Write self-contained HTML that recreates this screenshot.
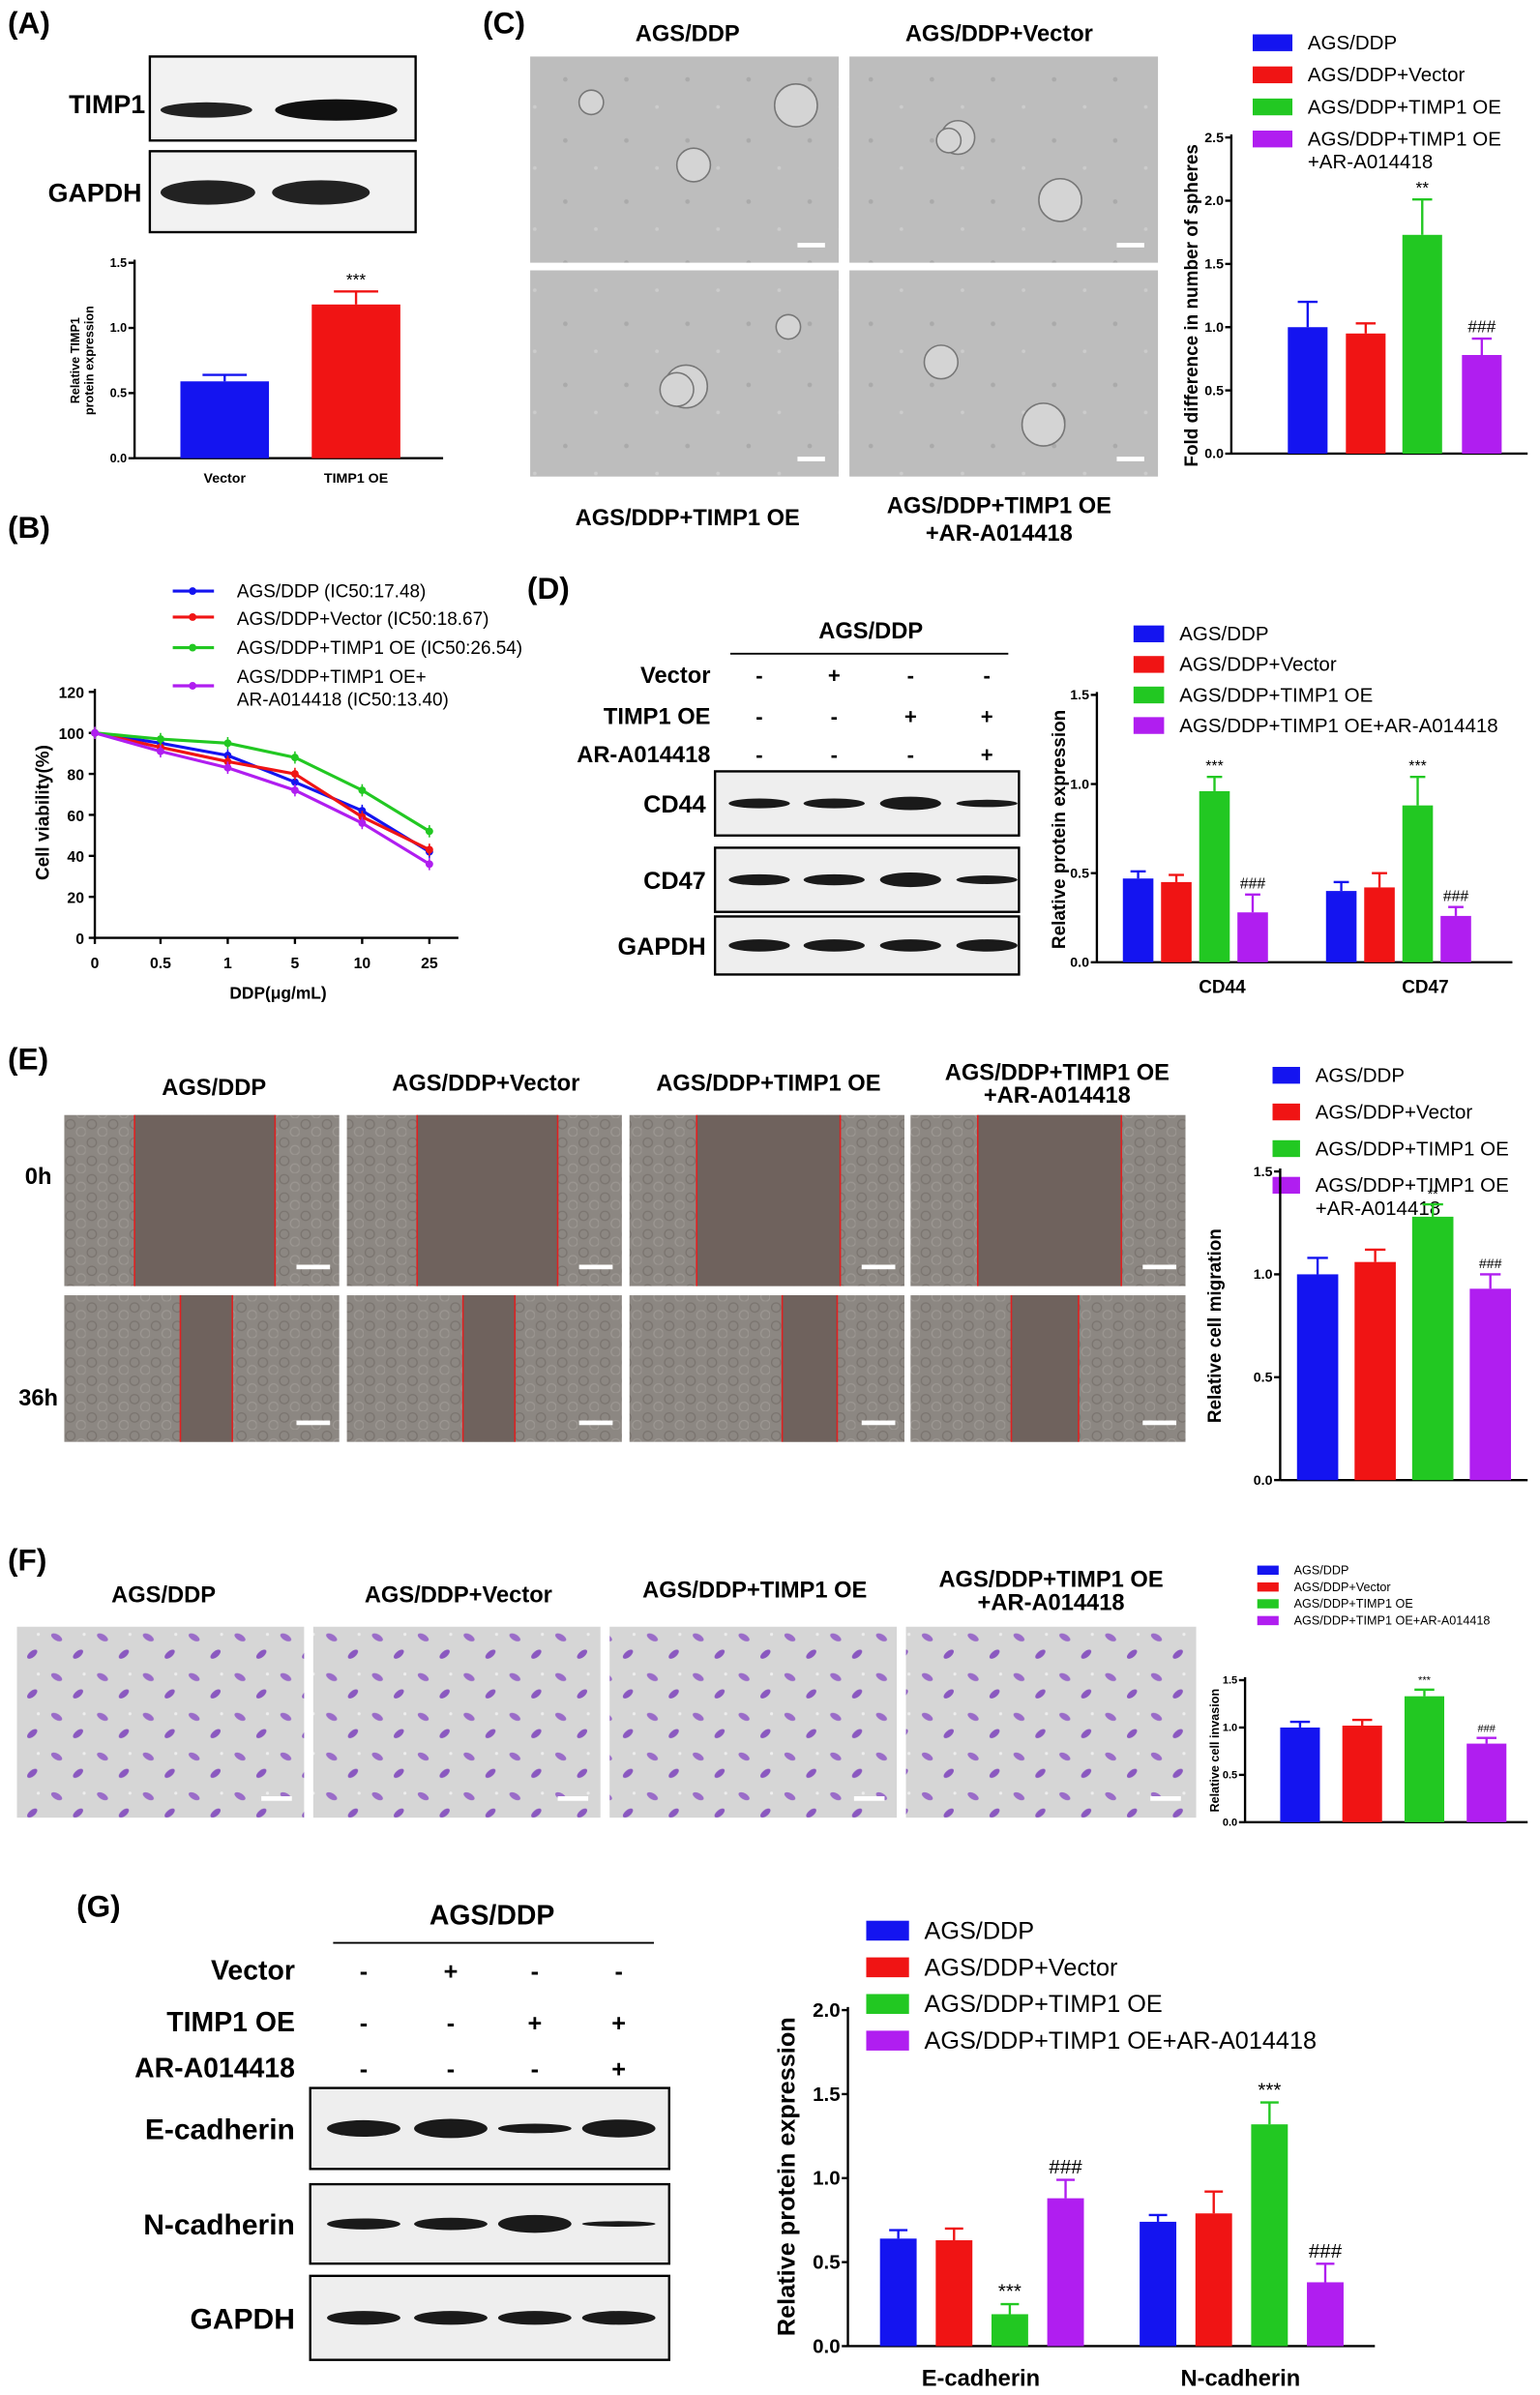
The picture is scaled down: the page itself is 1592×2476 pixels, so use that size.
<!DOCTYPE html>
<html><head><meta charset="utf-8"><style>
html,body{margin:0;padding:0;background:#fff}
svg{display:block}
text{font-family:"Liberation Sans",Arial,sans-serif}
</style></head><body>
<svg id="s" width="1592" height="2476" viewBox="0 0 1008 1568" xmlns="http://www.w3.org/2000/svg">
<defs>
<pattern id="sph" width="40" height="40" patternUnits="userSpaceOnUse"><rect width="40" height="40" fill="#bdbdbd"/><circle cx="10" cy="12" r="1.5" fill="#aaa"/><circle cx="30" cy="30" r="1.2" fill="#ccc"/></pattern>
<pattern id="cel" width="14" height="12" patternUnits="userSpaceOnUse"><rect width="14" height="12" fill="#8c8782"/><circle cx="4" cy="4" r="3" fill="none" stroke="#7a746f" stroke-width="0.8"/><circle cx="11" cy="9" r="3" fill="none" stroke="#9c9792" stroke-width="0.8"/></pattern>
<pattern id="vio" width="30" height="26" patternUnits="userSpaceOnUse"><rect width="30" height="26" fill="#d6d6d6"/><ellipse cx="7" cy="6" rx="4" ry="2" fill="#9a6cc8" transform="rotate(30 7 6)"/><ellipse cx="21" cy="17" rx="4" ry="2" fill="#8a58c0" transform="rotate(-40 21 17)"/><circle cx="25" cy="4" r="1" fill="#eee"/></pattern>
</defs>
<g id="g"></g>
</svg>
<script>
var o='';
function T(x,y,s,t,sz,w,a,rot){o+='<text x="'+x+'" y="'+y+'" font-size="'+sz+'" font-weight="'+(w||'bold')+'" text-anchor="'+(a||'middle')+'"'+(rot?' transform="rotate(-90 '+x+' '+y+')"':'')+'>'+t+'</text>';}
function R(x,y,w,h,f,st){o+='<rect x="'+x+'" y="'+y+'" width="'+w+'" height="'+h+'" fill="'+f+'"'+(st?' stroke="'+st+'" stroke-width="1.5"':'')+'/>';}
function L(x1,y1,x2,y2,c,w){o+='<line x1="'+x1+'" y1="'+y1+'" x2="'+x2+'" y2="'+y2+'" stroke="'+(c||'#000')+'" stroke-width="'+(w||1.5)+'"/>';}
var C=['#1414f0','#f01414','#22c822','#b01ef0'];
function axis(x,y0,ytop,ticks,scale,xend,fs){L(x,y0,x,ytop-2);L(x,y0,xend,y0);ticks.forEach(function(t){var y=y0-t*scale;L(x-4,y,x,y);T(x-5,y+fs/3,0,t.toFixed(1),fs,'bold','end');});}
function bar(x,w,y0,sc,v,e,c,ann,fs){var y=y0-v*sc;R(x,y,w,v*sc,c);L(x+w/2,y,x+w/2,y-e*sc,c,1.5);L(x+w/2-w/4,y-e*sc,x+w/2+w/4,y-e*sc,c,1.5);if(ann)T(x+w/2,y-e*sc-4,0,ann,fs||11,'normal');}
function legend(x,y,dy,labels,fs,sw,sh){labels.forEach(function(l,i){R(x,y+i*dy-sh/2,sw,sh,C[i]);var parts=l.split('|');parts.forEach(function(p,j){T(x+sw+10,y+i*dy+fs/3+j*(fs+2),0,p,fs,'normal','start');});});}
function band(x,y,w,h,c){o+='<ellipse cx="'+(x+w/2)+'" cy="'+y+'" rx="'+w/2+'" ry="'+h/2+'" fill="'+c+'"/>';}
// (A)
T(5,22,0,'(A)',20,'bold','start');
R(98,37,174,55,'#f2f2f2','#000');R(98,99,174,53,'#f2f2f2','#000');
T(70,74,0,'TIMP1',17);T(62,132,0,'GAPDH',17);
band(105,72,60,10,'#222');band(180,72,80,14,'#111');band(105,126,62,16,'#222');band(178,126,64,16,'#222');
axis(88,300,172,[0,0.5,1,1.5],85.3,290,8);
T(52,236,0,'Relative TIMP1',8,'bold','middle',1);T(61,236,0,'protein expression',8,'bold','middle',1);
bar(118,58,300,85.3,0.59,0.05,C[0]);bar(204,58,300,85.3,1.18,0.1,C[1],'***',11);
T(147,316,0,'Vector',9);T(233,316,0,'TIMP1 OE',9);
// (B)
T(5,352,0,'(B)',20,'bold','start');
var bl=['AGS/DDP (IC50:17.48)','AGS/DDP+Vector (IC50:18.67)','AGS/DDP+TIMP1 OE (IC50:26.54)','AGS/DDP+TIMP1 OE+|AR-A014418 (IC50:13.40)'];
var bly=[387,404,424,449],bty=[391,409,428,447];
bl.forEach(function(l,i){var y=bly[i];L(113,y,140,y,C[i],2);o+='<circle cx="126" cy="'+y+'" r="2.5" fill="'+C[i]+'"/>';l.split('|').forEach(function(p,j){T(155,bty[i]+j*15,0,p,12,'normal','start');});});
var by0=614,bs=161/120,bx=[62,105,149,193,237,281];
L(62,614,300,614);L(62,614,62,451);
[0,20,40,60,80,100,120].forEach(function(t){var y=by0-t*bs;L(58,y,62,y);T(55,y+4,0,t,10,'bold','end');});
['0','0.5','1','5','10','25'].forEach(function(t,i){L(bx[i],614,bx[i],618);T(bx[i],634,0,t,10);});
T(182,654,0,'DDP(μg/mL)',11);T(32,532,0,'Cell viability(%)',12,'bold','middle',1);
var bv=[[100,95,89,76,62,42],[100,93,86,80,59,43],[100,97,95,88,72,52],[100,91,83,72,56,36]];
bv.forEach(function(v,k){var p=v.map(function(a,i){return bx[i]+','+(by0-a*bs)}).join(' ');o+='<polyline points="'+p+'" fill="none" stroke="'+C[k]+'" stroke-width="2"/>';v.forEach(function(a,i){var y=by0-a*bs;o+='<circle cx="'+bx[i]+'" cy="'+y+'" r="2.5" fill="'+C[k]+'"/>';L(bx[i],y-4,bx[i],y+4,C[k],1);});});
// (C)
T(316,22,0,'(C)',20,'bold','start');
T(450,27,0,'AGS/DDP',15);T(654,27,0,'AGS/DDP+Vector',15);
T(450,344,0,'AGS/DDP+TIMP1 OE',15);T(654,336,0,'AGS/DDP+TIMP1 OE',15);T(654,354,0,'+AR-A014418',15);
[[347,37],[556,37],[347,177],[556,177]].forEach(function(p,i){R(p[0],p[1],202,135,'url(#sph)');for(var k=0;k<3;k++){var cx=p[0]+40+((k*67+i*31)%140),cy=p[1]+30+((k*41+i*23)%80);o+='<circle cx="'+cx+'" cy="'+cy+'" r="'+(8+(k+i)%3*3)+'" fill="#d4d4d4" stroke="#777" stroke-width="1"/>';}R(p[0]+175,p[1]+122,18,3,'#fff');});
legend(820,28,21,['AGS/DDP','AGS/DDP+Vector','AGS/DDP+TIMP1 OE','AGS/DDP+TIMP1 OE|+AR-A014418'],13,26,11);
axis(806,297,90,[0,0.5,1,1.5,2,2.5],82.8,1000,9);
T(784,200,0,'Fold difference in number of spheres',12,'bold','middle',1);
[[843,1,.2],[881,.95,.08,],[918,1.73,.28,'**'],[957,.78,.13,'###']].forEach(function(b,i){bar(b[0],26,297,82.8,b[1],b[2],C[i],b[3],11);});
// (D)
T(345,392,0,'(D)',20,'bold','start');
T(570,418,0,'AGS/DDP',15);L(478,428,660,428,'#000',1.2);
var dc=[497,546,596,646];
[['Vector',447,['-','+','-','-']],['TIMP1 OE',474,['-','-','+','+']],['AR-A014418',499,['-','-','-','+']]].forEach(function(r){T(465,r[1],0,r[0],15,'bold','end');r[2].forEach(function(s,i){T(dc[i],r[1],0,s,14);});});
[['CD44',505,42],['CD47',555,42],['GAPDH',600,38]].forEach(function(r,ri){R(468,r[1],199,r[2],'#eeeeee','#000');T(462,r[1]+r[2]/2+6,0,r[0],16,'bold','end');dc.forEach(function(x,i){var w=[[.8,.8,1.1,.6],[.9,.9,1.2,.7],[1,1,1,1]][ri][i];band(x-20,r[1]+r[2]/2,40,8*w,'#1a1a1a');});});
legend(742,415,20,['AGS/DDP','AGS/DDP+Vector','AGS/DDP+TIMP1 OE','AGS/DDP+TIMP1 OE+AR-A014418'],13,20,11);
axis(718,630,455,[0,0.5,1,1.5],116.7,990,9);
T(697,543,0,'Relative protein expression',12,'bold','middle',1);
[[.47,.04],[.45,.04],[.96,.08,'***'],[.28,.1,'###']].forEach(function(b,i){bar(735+i*25,20,630,116.7,b[0],b[1],C[i],b[2],10);});
[[.40,.05],[.42,.08],[.88,.16,'***'],[.26,.05,'###']].forEach(function(b,i){bar(868+i*25,20,630,116.7,b[0],b[1],C[i],b[2],10);});
T(800,650,0,'CD44',12);T(933,650,0,'CD47',12);
// (E)
T(5,700,0,'(E)',20,'bold','start');
T(140,717,0,'AGS/DDP',15);T(318,714,0,'AGS/DDP+Vector',15);T(503,714,0,'AGS/DDP+TIMP1 OE',15);T(692,707,0,'AGS/DDP+TIMP1 OE',15);T(692,722,0,'+AR-A014418',15);
T(25,775,0,'0h',15);T(25,920,0,'36h',15,'bold','middle');
var ex=[42,227,412,596],gaps=[[[46,138],[46,138],[44,138],[44,138]],[[76,110],[76,110],[100,136],[66,110]]];
ex.forEach(function(x,i){[[730,112],[848,96]].forEach(function(r,j){R(x,r[0],180,r[1],'url(#cel)');var g=gaps[j][i];R(x+g[0],r[0],g[1]-g[0],r[1],'#6f625d');L(x+g[0],r[0],x+g[0],r[0]+r[1],'#e02020',1);L(x+g[1],r[0],x+g[1],r[0]+r[1],'#e02020',1);R(x+152,r[0]+r[1]-14,22,3,'#fff');});});
legend(833,704,24,['AGS/DDP','AGS/DDP+Vector','AGS/DDP+TIMP1 OE','AGS/DDP+TIMP1 OE|+AR-A014418'],13,18,11);
axis(838,969,767,[0,0.5,1,1.5],134.7,1000,9);
T(799,868,0,'Relative cell migration',12,'bold','middle',1);
[[1,.08],[1.06,.06],[1.28,.06,'**'],[.93,.07,'###']].forEach(function(b,i){bar(849+i*37.7,27,969,134.7,b[0],b[1],C[i],b[2],9);});
// (F)
T(5,1028,0,'(F)',20,'bold','start');
T(107,1049,0,'AGS/DDP',15);T(300,1049,0,'AGS/DDP+Vector',15);T(494,1046,0,'AGS/DDP+TIMP1 OE',15);T(688,1039,0,'AGS/DDP+TIMP1 OE',15);T(688,1054,0,'+AR-A014418',15);
[[11,188],[205,188],[399,188],[593,190]].forEach(function(p){R(p[0],1065,p[1],125,'url(#vio)');R(p[0]+160,1176,20,3,'#fff');});
legend(823,1028,11,['AGS/DDP','AGS/DDP+Vector','AGS/DDP+TIMP1 OE','AGS/DDP+TIMP1 OE+AR-A014418'],8,14,6);
axis(815,1193,1100,[0,0.5,1,1.5],62,1000,7);
T(798,1146,0,'Relative cell invasion',8,'bold','middle',1);
[[1,.06],[1.02,.06],[1.33,.07,'***'],[.83,.06,'###']].forEach(function(b,i){bar(838+i*40.7,26,1193,62,b[0],b[1],C[i],b[2],7);});
// (G)
T(50,1255,0,'(G)',20,'bold','start');
T(322,1260,0,'AGS/DDP',18);L(218,1272,428,1272,'#000',1.2);
var gc=[238,295,350,405];
[['Vector',1296,['-','+','-','-']],['TIMP1 OE',1330,['-','-','+','+']],['AR-A014418',1360,['-','-','-','+']]].forEach(function(r){T(193,r[1],0,r[0],18,'bold','end');r[2].forEach(function(s,i){T(gc[i],r[1],0,s,16);});});
[['E-cadherin',1367,53],['N-cadherin',1430,52],['GAPDH',1490,55]].forEach(function(r,ri){R(203,r[1],235,r[2],'#eeeeee','#000');T(193,r[1]+r[2]/2+7,0,r[0],19,'bold','end');gc.forEach(function(x,i){var w=[[1.2,1.4,.7,1.3],[.8,.9,1.3,.4],[1,1,1,1]][ri][i];band(x-24,r[1]+r[2]/2,48,9*w,'#1a1a1a');});});
legend(567,1264,24,['AGS/DDP','AGS/DDP+Vector','AGS/DDP+TIMP1 OE','AGS/DDP+TIMP1 OE+AR-A014418'],16,28,13);
axis(555,1536,1316,[0,0.5,1,1.5,2],110,900,13);
T(520,1425,0,'Relative protein expression',16,'bold','middle',1);
[[.64,.05],[.63,.07],[.19,.06,'***'],[.88,.11,'###']].forEach(function(b,i){bar(576+i*36.5,24,1536,110,b[0],b[1],C[i],b[2],13);});
[[.74,.04],[.79,.13],[1.32,.13,'***'],[.38,.11,'###']].forEach(function(b,i){bar(746+i*36.5,24,1536,110,b[0],b[1],C[i],b[2],13);});
T(642,1562,0,'E-cadherin',15);T(812,1562,0,'N-cadherin',15);
document.getElementById('g').innerHTML=o;
</script>
</body></html>
